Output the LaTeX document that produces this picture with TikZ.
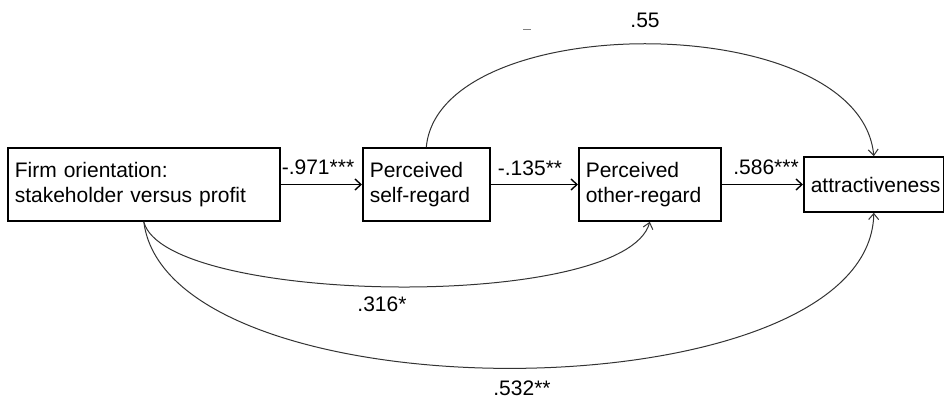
\documentclass[tikz,border=0pt]{standalone}
\usepackage{fontspec}
\setmainfont{Liberation Sans}
\usetikzlibrary{arrows.meta}
\begin{document}
\begin{tikzpicture}[x=1pt,y=-1pt,
  box/.style={draw=black,line width=1.6pt,minimum height=73pt,inner xsep=7pt,inner ysep=0pt,align=left,font=\fontsize{21}{25}\selectfont,anchor=west},
  lbl/.style={font=\fontsize{21}{25}\selectfont,inner sep=0pt},
  direct/.style={line width=1.6pt,-{Straight Barb[length=6pt,width=11pt,line width=1.4pt]}},
  arcline/.style={line width=1pt,draw=black!80,-{Straight Barb[length=6pt,width=10pt,line width=1pt]}}]
\fill[white] (0,0) rectangle (944,401);
\useasboundingbox (0,0) rectangle (944,401);

\node[box,text width=258pt] (firm) at (7,184.5) {Firm orientation:\\stakeholder versus profit};
\node[box,text width=113pt] (self) at (362,184.5) {Perceived\\self-regard};
\node[box,text width=128pt] (other) at (578,184.5) {Perceived\\other-regard};
\node[box,text width=126pt,minimum height=55pt] (attr) at (803,184.5) {attractiveness};

\draw[direct] (firm.east) -- (self.west);
\draw[direct] (self.east) -- (other.west);
\draw[direct] (other.east) -- (attr.west);

\draw[arcline] (self.north) .. controls (439,8) and (860,8) .. (attr.north);
\draw[arcline] (firm.south) .. controls (165,305) and (625,312) .. (other.south);
\draw[arcline] (firm.south) .. controls (169,420) and (870,417) .. (attr.south);

\node[lbl] (l1) at (318,167) {-.971***};
\node[lbl] (l2) at (530,168) {-.135**};
\node[lbl] (l3) at (766,167) {.586***};
\node[lbl] (l4) at (645,20) {.55};
\node[lbl] (l5) at (382,304) {.316*};
\node[lbl] (l6) at (522,388) {.532**};

\coordinate (d1) at (523,29);
\coordinate (d2) at (531,29);
\draw[black!50,line width=0.8pt] (d1) -- (d2);
\end{tikzpicture}
\end{document}
